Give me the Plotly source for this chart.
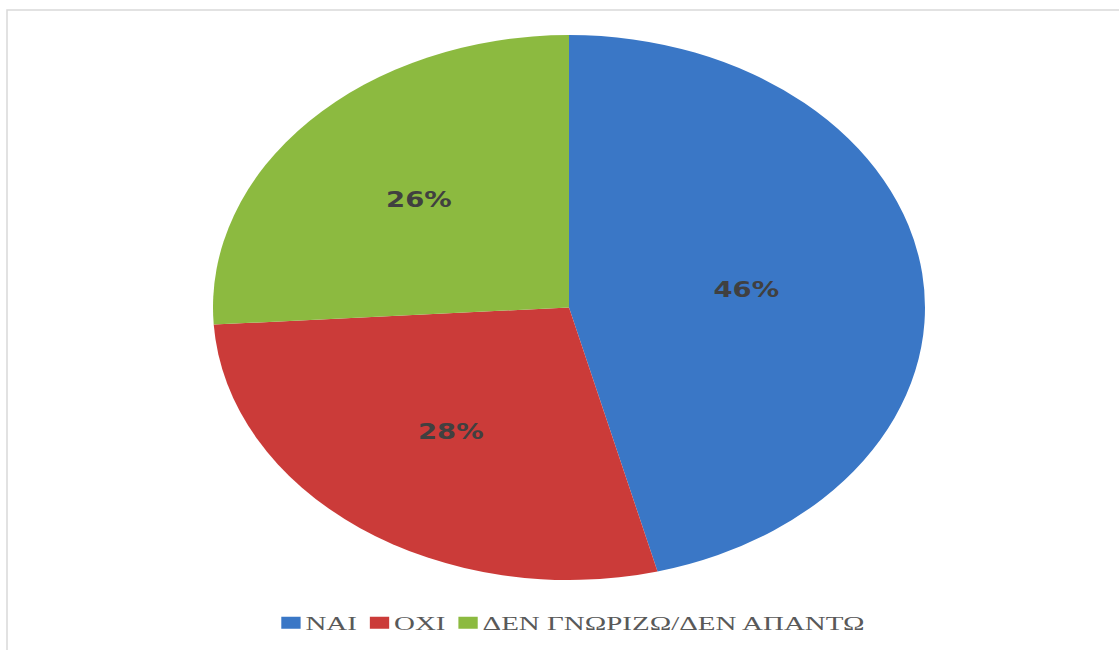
import plotly.graph_objects as go

categories = ["ΝΑΙ", "ΟΧΙ", "ΔΕΝ ΓΝΩΡΙΖΩ/ΔΕΝ ΑΠΑΝΤΩ"]
values = [46, 28, 26]
colors = ["#3a77c6", "#cb3b39", "#8cba40"]

W, H = 1119, 650
cx_px, cy_px = 569, 307.5
ry_px = 272.5
pie_stretch = 356 / 272.5
legend_stretch = 1.61
legend_cx, legend_cy = 573, 623

fig = go.Figure(
    go.Pie(
        labels=categories,
        values=values,
        sort=False,
        direction="clockwise",
        rotation=0,
        marker=dict(colors=colors, line=dict(width=0)),
        texttemplate="%{value}%",
        textposition="inside",
        insidetextorientation="horizontal",
        textfont=dict(family="DejaVu Sans, sans-serif", size=21, color="#404040", weight="bold"),
        hoverinfo="label+percent",
        domain=dict(
            x=[(cx_px - ry_px) / W, (cx_px + ry_px) / W],
            y=[1 - (cy_px + ry_px) / H, 1 - (cy_px - ry_px) / H],
        ),
    )
)

fig.update_layout(
    width=W,
    height=H,
    margin=dict(l=0, r=0, t=0, b=0),
    paper_bgcolor="white",
    plot_bgcolor="white",
    showlegend=True,
    legend=dict(
        orientation="h",
        x=legend_cx / W,
        xanchor="center",
        y=1 - legend_cy / H,
        yanchor="middle",
        bgcolor="rgba(0,0,0,0)",
        font=dict(family="Liberation Serif, serif", size=18, color="#595959"),
        itemwidth=30,
    ),
    shapes=[
        dict(
            type="rect",
            xref="paper",
            yref="paper",
            x0=7 / W,
            x1=1.02,
            y0=-0.02,
            y1=1 - 10 / H,
            line=dict(color="#d9d9d9", width=1.5),
            fillcolor="rgba(0,0,0,0)",
            layer="below",
        )
    ],
)

post = """
document.body.style.margin = '0';
document.body.style.padding = '0';
var gd = document.getElementById('{plot_id}');
var PIE_CX = %f, PIE_S = %f, LEG_CX = %f, LEG_S = %f;
function parseT(el){
  var t = el.getAttribute('transform') || '';
  var m = /translate\\(\\s*([-\\d.e]+)[\\s,]+([-\\d.e]+)\\s*\\)/.exec(t);
  return m ? [parseFloat(m[1]), parseFloat(m[2])] : [0, 0];
}
function fixAll(){
  if (gd.dataset.fixed) return;
  gd.dataset.fixed = '1';
  var layer = gd.querySelector('.pielayer');
  if (layer) {
    layer.setAttribute('transform', 'translate(' + (PIE_CX*(1-PIE_S)) + ',0) scale(' + PIE_S + ',1)');
  }
  var leg = gd.querySelector('.legend');
  if (!leg) return;
  var svg = gd.querySelector('.main-svg').getBoundingClientRect();
  var items = Array.prototype.slice.call(leg.querySelectorAll('.traces'));
  var next = null, left0 = null, right = null;
  items.forEach(function(it){
    var sym = it.querySelector('.legendpoints');
    var txt = it.querySelector('.legendtext');
    if (!sym || !txt) return;
    var sr = sym.getBoundingClientRect();
    var tr = txt.getBoundingClientRect();
    if (next === null) { next = sr.left; left0 = sr.left; }
    var dx = next - sr.left;
    var p = parseT(it);
    it.setAttribute('transform', 'translate(' + (p[0] + dx) + ',' + p[1] + ')');
    var tdx = (sr.right + 3) - tr.left;
    var tx = parseFloat(txt.getAttribute('x') || '0');
    txt.setAttribute('x', tx + tdx);
    right = next + (sr.right - sr.left) + 3 + (tr.right - tr.left);
    next = right + 8;
  });
  if (left0 === null) return;
  var lp = parseT(leg);
  var lloc = left0 - svg.left - lp[0];
  var wc = right - left0;
  var a = LEG_CX - LEG_S * (lloc + wc/2);
  leg.setAttribute('transform', 'translate(' + a + ',' + lp[1] + ') scale(' + LEG_S + ',1)');
}
fixAll();
""" % (cx_px, pie_stretch, legend_cx, legend_stretch)

fig.write_html("out.html", post_script=post, config={"displayModeBar": False})
